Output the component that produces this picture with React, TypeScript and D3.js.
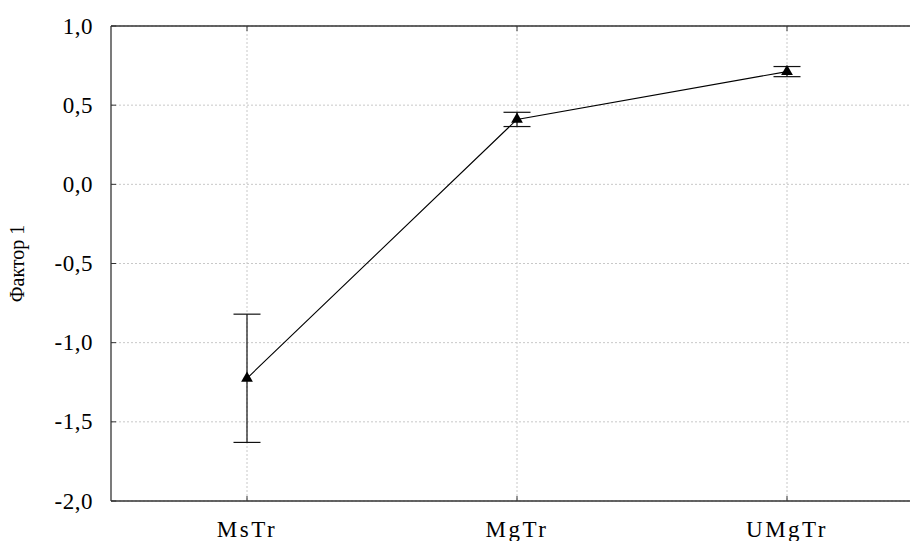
import React from "react";
import * as d3 from "d3";

const categories = ["MsTr", "MgTr", "UMgTr"];
const means = [-1.225, 0.41, 0.712];
const errors = [0.405, 0.045, 0.032];
const yTicks = [1.0, 0.5, 0.0, -0.5, -1.0, -1.5, -2.0];
const yLabel = "Фактор 1";

export default function App() {
  const W = 910, H = 541;
  const left = 111, top = 26, bottom = 501, right = 922;
  const y = d3.scaleLinear().domain([-2, 1]).range([bottom, top]);
  const x = d3.scalePoint<string>().domain(categories).range([247, 787]);
  const fmt = (v: number) => d3.format(".1f")(v).replace(".", ",").replace("−", "-");
  const font = "'Liberation Serif', 'Times New Roman', serif";
  const line = d3
    .line<number>()
    .x((_, i) => x(categories[i]) as number)
    .y((d) => y(d));
  const tri = d3.symbol().type(d3.symbolTriangle).size(60);
  const capHalf = 13.5;
  return (
    <svg
      width={W}
      height={H}
      style={{ position: "absolute", left: 0, top: 0, background: "#fff" }}
    >
      {/* grid */}
      {yTicks.map((t) => (
        <line
          key={"gy" + t}
          x1={left}
          x2={right}
          y1={y(t)}
          y2={y(t)}
          stroke="#c8c8c8"
          strokeDasharray="2,2"
        />
      ))}
      {categories.map((c) => (
        <line
          key={"gx" + c}
          x1={x(c)}
          x2={x(c)}
          y1={top}
          y2={bottom}
          stroke="#c8c8c8"
          strokeDasharray="2,2"
        />
      ))}
      {/* ticks */}
      {yTicks.map((t) => (
        <line key={"ty" + t} x1={left} x2={left + 5} y1={y(t)} y2={y(t)} stroke="#333" />
      ))}
      {categories.map((c) => (
        <g key={"tx" + c}>
          <line x1={x(c)} x2={x(c)} y1={top} y2={top + 5} stroke="#333" />
          <line x1={x(c)} x2={x(c)} y1={bottom} y2={bottom - 5} stroke="#333" />
        </g>
      ))}
      {/* axes frame */}
      <line x1={left} x2={right} y1={top} y2={top} stroke="#333" strokeWidth={1.3} />
      <line x1={left} x2={right} y1={bottom} y2={bottom} stroke="#333" strokeWidth={1.3} />
      <line x1={left} x2={left} y1={top} y2={bottom} stroke="#333" strokeWidth={1.3} />
      {/* tick labels */}
      {yTicks.map((t) => (
        <text
          key={"ly" + t}
          x={93}
          y={y(t)}
          textAnchor="end"
          dominantBaseline="central"
          fontFamily={font}
          fontSize={23}
          letterSpacing={0.5}
          fill="#000"
        >
          {fmt(t)}
        </text>
      ))}
      {categories.map((c) => (
        <text
          key={"lx" + c}
          x={x(c)}
          y={537}
          textAnchor="middle"
          fontFamily={font}
          fontSize={23}
          letterSpacing={2.5}
          fill="#000"
        >
          {c}
        </text>
      ))}
      <text
        transform={`translate(24,${(top + bottom) / 2}) rotate(-90)`}
        textAnchor="middle"
        fontFamily={font}
        fontSize={20}
        fill="#000"
      >
        {yLabel}
      </text>
      {/* error bars */}
      {categories.map((c, i) => {
        const cx = x(c) as number;
        const hi = y(means[i] + errors[i]);
        const lo = y(means[i] - errors[i]);
        return (
          <g key={"e" + c} stroke="#111" strokeWidth={1.2}>
            <line x1={cx} x2={cx} y1={hi} y2={lo} />
            <line x1={cx - capHalf} x2={cx + capHalf} y1={hi} y2={hi} />
            <line x1={cx - capHalf} x2={cx + capHalf} y1={lo} y2={lo} />
          </g>
        );
      })}
      {/* line */}
      <path d={line(means) || ""} fill="none" stroke="#000" strokeWidth={1.1} />
      {/* markers */}
      {categories.map((c, i) => (
        <path
          key={"m" + c}
          d={tri() || ""}
          transform={`translate(${x(c)},${y(means[i])})`}
          fill="#000"
        />
      ))}
    </svg>
  );
}
